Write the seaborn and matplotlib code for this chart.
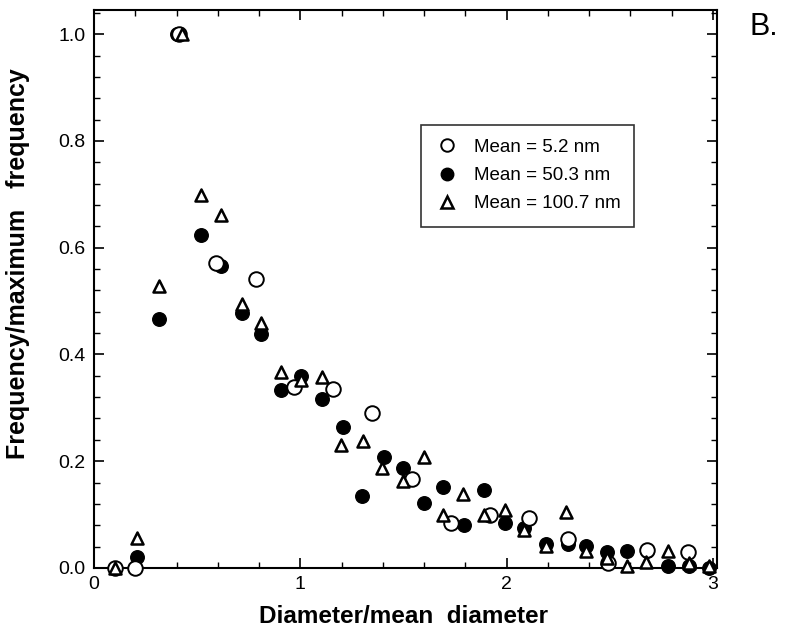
import matplotlib
matplotlib.use("Agg")
import matplotlib.pyplot as plt
import seaborn as sns
import pandas as pd
from matplotlib.ticker import MultipleLocator, FormatStrFormatter
from matplotlib.lines import Line2D

sns.set_theme(style="ticks", rc={"text.color": "black", "axes.labelcolor": "black",
                                 "xtick.color": "black", "ytick.color": "black",
                                 "axes.edgecolor": "black"})
plt.rcParams['font.family'] = ['Liberation Sans', 'DejaVu Sans']

# Series: Mean = 5.2 nm (open circles)
x_52 = [0.10, 0.20, 0.41, 0.59, 0.785, 0.97, 1.16, 1.35, 1.54, 1.73, 1.92, 2.11, 2.30, 2.49, 2.68, 2.88]
y_52 = [0.0, 0.0, 1.0, 0.572, 0.541, 0.339, 0.335, 0.290, 0.167, 0.084, 0.100, 0.094, 0.054, 0.009, 0.034, 0.029]

# Series: Mean = 50.3 nm (filled circles)
x_503 = [0.10, 0.207, 0.317, 0.40, 0.519, 0.615, 0.717, 0.809, 0.908, 1.003, 1.105, 1.205, 1.299,
         1.404, 1.498, 1.599, 1.693, 1.793, 1.890, 1.990, 2.084, 2.189, 2.298, 2.387, 2.488,
         2.583, 2.683, 2.783, 2.885, 2.982]
y_503 = [0.0, 0.020, 0.466, 1.0, 0.624, 0.566, 0.477, 0.438, 0.333, 0.360, 0.316, 0.264, 0.135,
         0.207, 0.187, 0.121, 0.151, 0.081, 0.146, 0.084, 0.075, 0.044, 0.045, 0.042, 0.029,
         0.032, 0.032, 0.004, 0.003, 0.0]

# Series: Mean = 100.7 nm (open triangles)
x_1007 = [0.10, 0.207, 0.317, 0.425, 0.519, 0.617, 0.717, 0.809, 0.908, 1.003, 1.105, 1.199, 1.302,
          1.396, 1.498, 1.599, 1.693, 1.788, 1.890, 1.990, 2.084, 2.189, 2.286, 2.387, 2.488,
          2.583, 2.678, 2.783, 2.882, 2.982]
y_1007 = [0.0, 0.056, 0.529, 1.0, 0.698, 0.661, 0.495, 0.459, 0.367, 0.352, 0.358, 0.230, 0.237,
          0.187, 0.163, 0.208, 0.100, 0.138, 0.100, 0.109, 0.071, 0.041, 0.105, 0.032, 0.019,
          0.003, 0.012, 0.031, 0.010, 0.003]

labels = ["Mean = 5.2 nm", "Mean = 50.3 nm", "Mean = 100.7 nm"]

df52 = pd.DataFrame({"x": x_52, "y": y_52})
df503 = pd.DataFrame({"x": x_503, "y": y_503})
df1007 = pd.DataFrame({"x": x_1007, "y": y_1007})

fig = plt.figure(figsize=(7.86, 6.36), dpi=100)
ax = fig.add_axes([0.1196, 0.107, 0.7926, 0.877])

sns.scatterplot(data=df503, x="x", y="y", ax=ax, marker="o", s=95,
                color="black", edgecolor="black", linewidth=1.0, clip_on=False, zorder=3)
sns.scatterplot(data=df52, x="x", y="y", ax=ax, marker="o", s=110,
                facecolor="white", edgecolor="black", linewidth=1.4, clip_on=False, zorder=4)
sns.scatterplot(data=df1007, x="x", y="y", ax=ax, marker="^", s=75,
                facecolor="white", edgecolor="black", linewidth=1.8, clip_on=False, zorder=5)

ax.set_xlim(0, 3.02)
ax.set_ylim(0, 1.045)
ax.xaxis.set_major_locator(MultipleLocator(1))
ax.xaxis.set_minor_locator(MultipleLocator(0.2))
ax.yaxis.set_major_locator(MultipleLocator(0.2))
ax.yaxis.set_minor_locator(MultipleLocator(0.04))
ax.yaxis.set_major_formatter(FormatStrFormatter("%.1f"))
ax.tick_params(which="both", direction="in", top=True, right=True, colors="black")
ax.tick_params(which="major", length=7, width=1.2, labelsize=14, pad=6)
ax.tick_params(which="minor", length=4, width=1.0)
for sp in ax.spines.values():
    sp.set_color("black")
    sp.set_linewidth(1.5)

ax.set_xlabel("Diameter/mean  diameter", fontsize=17.5, fontweight="bold")
ax.xaxis.set_label_coords(0.497, -0.066)
ax.set_ylabel("Frequency/maximum   frequency", fontsize=18, fontweight="bold")
ax.yaxis.set_label_coords(-0.103, 0.545)

handles = [
    Line2D([], [], linestyle="none", marker="o", markersize=9, markerfacecolor="white",
           markeredgecolor="black", markeredgewidth=1.4),
    Line2D([], [], linestyle="none", marker="o", markersize=9, markerfacecolor="black",
           markeredgecolor="black"),
    Line2D([], [], linestyle="none", marker="^", markersize=8, markerfacecolor="white",
           markeredgecolor="black", markeredgewidth=1.8),
]
leg = ax.legend(handles, labels, loc="upper left", bbox_to_anchor=(0.525, 0.795),
                fontsize=13.5, frameon=True, fancybox=False, edgecolor="black",
                handletextpad=0.75, labelspacing=0.6, borderpad=0.75, handlelength=1.3,
                borderaxespad=0)
leg.get_frame().set_linewidth(1.2)

fig.text(0.953, 0.945, "B.", fontsize=22, color="black", va="baseline")

fig.savefig("out.png", dpi=100, facecolor="white")
